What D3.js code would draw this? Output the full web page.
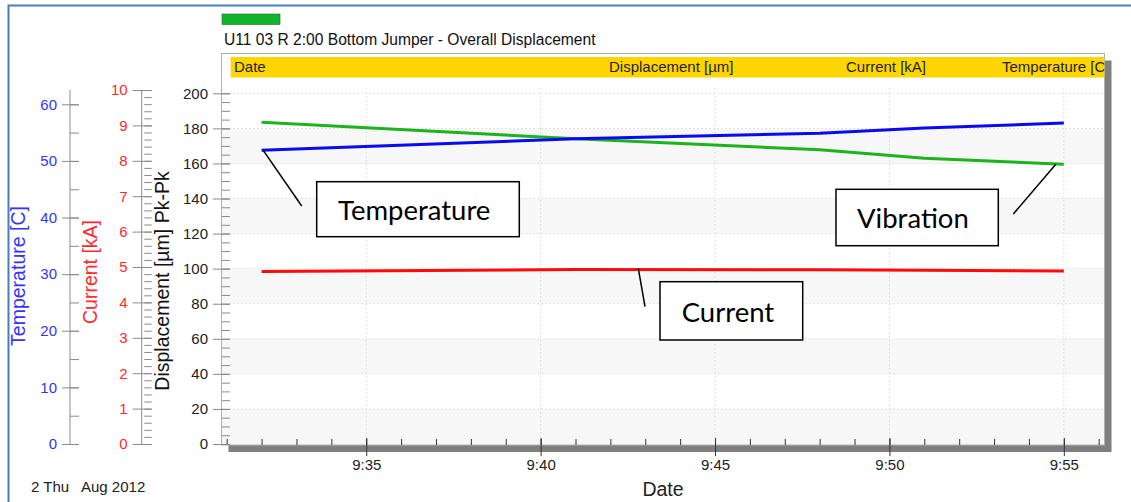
<!DOCTYPE html>
<html>
<head>
<meta charset="utf-8">
<script src="https://cdn.jsdelivr.net/npm/d3@7"></script>
<style>
body { margin: 0; background: #fff; }
svg text { font-family: "Liberation Sans", Arial, Helvetica, sans-serif; }
.callout text { font-family: Lato, "Open Sans", sans-serif; }
</style>
</head>
<body>
<div id="chart"></div>
<script>
// readings of 2 Aug 2012
var times = ["9:32", "9:41", "9:48", "9:51", "9:55"];
var displacement = [183.5, 174.1, 167.8, 163.0, 159.5];
var temperature = [51.9, 53.9, 54.9, 55.8, 56.7];
var current = [4.87, 4.93, 4.92, 4.91, 4.89];

// axis ticks
var dispTicks = d3.range(0, 201, 20);
var tempTicks = d3.range(0, 61, 10);
var currTicks = d3.range(0, 11, 1);
var headers = ["Date", "Displacement [µm]", "Current [kA]", "Temperature [C]"];

var width = 1131, height = 502;
var parse = d3.timeParse("%Y-%m-%d %H:%M");
function t(s) { return parse("2012-08-02 " + s); }

var svg = d3.select("#chart").append("svg")
  .attr("width", width).attr("height", height);

// outer blue frame
svg.append("path").attr("d", "M8.5,502V5.5H1131")
  .attr("fill", "none").attr("stroke", "#4a7ebb").attr("stroke-width", 2);

// scales
var x = d3.scaleTime().domain([t("9:31"), t("9:56")]).range([226.7, 1098.7]);
var yD = d3.scaleLinear().domain([0, 200]).range([444, 93.3]);
var yT = d3.scaleLinear().domain([0, 60]).range([444, 104.3]);
var yC = d3.scaleLinear().domain([0, 10]).range([444, 90]);

var box = {left: 221.5, top: 53.5, right: 1104.5, bottom: 445};

// legend swatch + title
svg.append("rect").attr("x", 222).attr("y", 14).attr("width", 58).attr("height", 10.5)
  .attr("fill", "#10b42a").attr("stroke", "#2a6a2a").attr("stroke-width", 0.6);
svg.append("text").attr("x", 224).attr("y", 45).attr("font-size", 15.6).attr("fill", "#111")
  .text("U11 03 R 2:00 Bottom Jumper - Overall Displacement");

// box shadow and box
svg.append("rect").attr("x", box.left + 7).attr("y", box.top + 7)
  .attr("width", box.right - box.left).attr("height", box.bottom - box.top)
  .attr("fill", "#7f7f7f");
svg.append("rect").attr("x", box.left).attr("y", box.top)
  .attr("width", box.right - box.left).attr("height", box.bottom - box.top)
  .attr("fill", "#fff").attr("stroke", "#b0b0b0").attr("stroke-width", 1);

svg.append("clipPath").attr("id", "boxclip").append("rect")
  .attr("x", box.left).attr("y", box.top)
  .attr("width", box.right - box.left).attr("height", box.bottom - box.top);

var plot = svg.append("g").attr("clip-path", "url(#boxclip)");

// header strip
plot.append("rect").attr("x", 230.7).attr("y", 57).attr("width", box.right - 230.7).attr("height", 20.5)
  .attr("fill", "#ffd500");
var headerX = [234, 609, 846, 1002];
plot.selectAll(".hdr").data(headers).enter().append("text")
  .attr("x", function(d, i) { return headerX[i]; }).attr("y", 72)
  .attr("font-size", 15).attr("fill", "#222").text(function(d) { return d; });

// alternating bands
var bands = dispTicks.filter(function(d, i) { return i % 2 === 0 && d < 200; });
plot.selectAll(".band").data(bands).enter().append("rect")
  .attr("x", box.left + 0.5).attr("width", box.right - box.left - 1)
  .attr("y", function(d) { return yD(d + 20); })
  .attr("height", function(d) { return yD(d) - yD(d + 20); })
  .attr("fill", "#f7f7f7");

// grid
plot.selectAll(".hgrid").data(dispTicks).enter().append("line")
  .attr("x1", box.left).attr("x2", box.right)
  .attr("y1", function(d) { return yD(d); }).attr("y2", function(d) { return yD(d); })
  .attr("stroke", "#dadada").attr("stroke-dasharray", "1.5,2.5");
var majorTimes = d3.timeMinute.every(5).range(t("9:31"), t("9:56"));
plot.selectAll(".vgrid").data(majorTimes).enter().append("line")
  .attr("x1", function(d) { return x(d); }).attr("x2", function(d) { return x(d); })
  .attr("y1", 88).attr("y2", box.bottom)
  .attr("stroke", "#dadada").attr("stroke-dasharray", "1.5,2.5");

// series lines
var rows = times.map(function(s, i) {
  return {date: t(s), disp: displacement[i], temp: temperature[i], curr: current[i]};
});
function drawLine(acc, yScale, color) {
  plot.append("path").datum(rows)
    .attr("d", d3.line().x(function(d) { return x(d.date); }).y(function(d) { return yScale(acc(d)); }))
    .attr("fill", "none").attr("stroke", color).attr("stroke-width", 3)
    .attr("stroke-linejoin", "round");
}
drawLine(function(d) { return d.curr; }, yC, "#ff0a0a");
drawLine(function(d) { return d.disp; }, yD, "#1cb41c");
drawLine(function(d) { return d.temp; }, yT, "#0a0af0");

// x axis
var xMinor = svg.append("g").attr("transform", "translate(0,445)")
  .call(d3.axisTop(x).ticks(d3.timeMinute.every(1)).tickSize(6).tickFormat(""));
xMinor.select(".domain").remove();
xMinor.selectAll("line").attr("stroke", "#333");
var xMajor = svg.append("g").attr("transform", "translate(0,438)")
  .call(d3.axisBottom(x).ticks(d3.timeMinute.every(5)).tickSize(18).tickFormat(d3.timeFormat("%-H:%M")));
xMajor.select(".domain").remove();
xMajor.selectAll("line").attr("stroke", "#333");
xMajor.selectAll("text").attr("y", 0).attr("dy", null)
  .attr("transform", "translate(0,32)").attr("font-size", 15).attr("fill", "#222");

// left axes helper
function leftAxis(scale, xPos, majors, minorStep, majSize, minSize, lineX, color, domainTop) {
  var minors = d3.range(0, scale.domain()[1] + 1e-9, minorStep);
  var gMin = svg.append("g").attr("transform", "translate(" + xPos + ",0)")
    .call(d3.axisLeft(scale).tickValues(minors).tickSize(minSize).tickFormat(""));
  gMin.select(".domain").remove();
  gMin.selectAll("line").attr("stroke", "#8a8a8a");
  var gMaj = svg.append("g").attr("transform", "translate(" + xPos + ",0)")
    .call(d3.axisLeft(scale).tickValues(majors).tickSize(majSize).tickPadding(5));
  gMaj.select(".domain").remove();
  gMaj.selectAll("line").attr("stroke", "#8a8a8a");
  gMaj.selectAll("text").attr("font-size", 15).attr("fill", color);
  if (lineX !== null) {
    svg.append("line").attr("x1", lineX).attr("x2", lineX)
      .attr("y1", domainTop).attr("y2", 444.5).attr("stroke", "#8a8a8a");
  }
}
leftAxis(yT, 79, tempTicks, 5, 17, 9, 70, "#3434ff", 90);
leftAxis(yC, 151.7, currTicks, 0.2, 19, 7.5, 141.7, "#ff2a2a", 90);
leftAxis(yD, 230, dispTicks, 5, 17, 8, null, "#222", 0);

// axis titles
function vTitle(txt, bx, cy, color) {
  svg.append("text").attr("transform", "translate(" + bx + "," + cy + ") rotate(-90)")
    .attr("text-anchor", "middle").attr("font-size", 19.5).attr("fill", color).text(txt);
}
vTitle("Temperature [C]", 25, 276, "#3434ff");
vTitle("Current [kA]", 97, 272, "#ff2a2a");
vTitle("Displacement [µm] Pk-Pk", 169, 281, "#111");

svg.append("text").attr("x", 663).attr("y", 496).attr("text-anchor", "middle")
  .attr("font-size", 19.5).attr("fill", "#222").text("Date");
svg.append("text").attr("x", 31).attr("y", 492).attr("font-size", 15).attr("fill", "#222").text("2 Thu");
svg.append("text").attr("x", 81).attr("y", 492).attr("font-size", 15).attr("fill", "#222").text("Aug 2012");

// callouts
var callouts = [
  {label: "Temperature", box: [316.7, 181.7, 202.6, 55], tx: 338, ty: 220,
   from: [x(t("9:32")) + 1.5, yT(temperature[0])], to: [301.7, 206]},
  {label: "Vibration", box: [836, 189.3, 162.3, 56.4], tx: 857, ty: 228.3,
   from: [x(t("9:55")) - 8, yD(displacement[4])], to: [1013.3, 214]},
  {label: "Current", box: [660, 281.7, 142.7, 58.3], tx: 681.7, ty: 321.7,
   from: [638.3, yC(current[2]) - 1.5], to: [645, 306.7]}
];
var cg = svg.append("g").attr("class", "callout");
callouts.forEach(function(c) {
  cg.append("line").attr("x1", c.from[0]).attr("y1", c.from[1])
    .attr("x2", c.to[0]).attr("y2", c.to[1]).attr("stroke", "#000").attr("stroke-width", 1.5);
  cg.append("rect").attr("x", c.box[0]).attr("y", c.box[1])
    .attr("width", c.box[2]).attr("height", c.box[3])
    .attr("fill", "#fff").attr("stroke", "#000").attr("stroke-width", 1.5);
  cg.append("text").attr("x", c.tx).attr("y", c.ty).attr("font-size", 27.5).attr("fill", "#000")
    .text(c.label);
});
</script>
</body>
</html>
